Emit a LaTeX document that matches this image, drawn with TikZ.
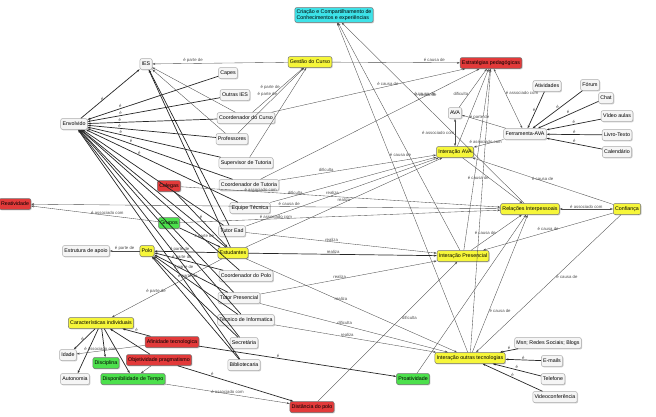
\documentclass[tikz,border=0pt]{standalone}
\usepackage{fontspec}
\setmainfont{Liberation Sans}
\usetikzlibrary{arrows.meta,shadows}

\definecolor{cmyellow}{HTML}{F6F63A}
\definecolor{cmred}{HTML}{E23A3A}
\definecolor{cmgreen}{HTML}{4CE04C}
\definecolor{cmcyan}{HTML}{3EE2E8}

\tikzset{
  concept/.style={draw=gray!65, line width=0.5pt, fill=gray!8, rounded corners=2pt, inner sep=1.8pt,
    minimum height=11pt, font=\fontsize{5.3}{6.3}\selectfont,
    drop shadow={shadow xshift=0.9pt, shadow yshift=-0.9pt, opacity=0.4}},
  yel/.style={concept, draw=black!55, fill=cmyellow},
  redc/.style={concept, draw=black!55, fill=cmred},
  grn/.style={concept, draw=black!55, fill=cmgreen},
  cyn/.style={concept, draw=black!55, fill=cmcyan},
  rel/.style={draw=black!70, line width=0.35pt, -{Stealth[length=3pt,width=2pt]}},
  both/.style={rel, {Stealth[length=3pt,width=2pt]}-{Stealth[length=3pt,width=2pt]}},
  strong/.style={rel, draw=black!85, line width=0.7pt},
  lbl/.style={font=\fontsize{4.3}{5}\selectfont, text=black!70, inner sep=0.5pt},
}

\begin{document}
\begin{tikzpicture}[x=1pt, y=-1pt]
    \useasboundingbox (0,0) rectangle (656,416);

    % conceitos
    \node[cyn, align=left] (criacao) at (334,15) {Criação e Compartilhamento de\\Conhecimentos e experiências};
    \node[concept] (ies) at (146,64) {IES};
    \node[yel] (gestao) at (310,62) {Gestão do Curso};
    \node[redc] (estrat) at (491,63) {Estratégias pedagógicas};
    \node[concept] (capes) at (228,73) {Capes};
    \node[concept] (outras) at (235,95) {Outras IES};
    \node[concept] (coordcurso) at (246,118) {Coordenador do Curso};
    \node[concept] (prof) at (232,139) {Professores};
    \node[concept] (superv) at (246,163) {Supervisor de Tutoria};
    \node[concept] (coordtut) at (249,185) {Coordenador de Tutoria};
    \node[concept] (envolv) at (74,124) {Envolvido};
    \node[concept] (ativ) at (547,86) {Atividades};
    \node[concept] (forum) at (590,85) {Fórum};
    \node[concept] (chat) at (606,98) {Chat};
    \node[concept] (video) at (617,116) {Vídeo aulas};
    \node[concept] (livro) at (617,135) {Livro-Texto};
    \node[concept] (calend) at (617,152) {Calendário};
    \node[concept] (ava) at (455,113) {AVA};
    \node[concept] (ferr) at (525,134) {Ferramenta-AVA};
    \node[yel] (intava) at (455,152) {Interação AVA};
    \node[redc] (colegas) at (169,186) {Colegas};
    \node[redc] (reat) at (15,204) {Reatividade};
    \node[concept] (equipe) at (250,208) {Equipe Técnica};
    \node[grn] (grupos) at (169,223) {Grupos};
    \node[concept] (tutoread) at (232,231) {Tutor Ead};
    \node[yel] (relac) at (530,209) {Relações Interpessoais};
    \node[yel] (confia) at (627,209) {Confiança};
    \node[concept] (estrut) at (86,251) {Estrutura de apoio};
    \node[yel] (polo) at (147,251) {Polo};
    \node[yel] (estud) at (233,253) {Estudantes};
    \node[concept] (coordpolo) at (246,276) {Coordenador do Polo};
    \node[yel] (intpres) at (463,256) {Interação Presencial};
    \node[concept] (tutorpres) at (239,298) {Tutor Presencial};
    \node[yel] (caract) at (101,323) {Características individuais};
    \node[concept] (tecnico) at (246,320) {Tecnico de Informatica};
    \node[redc] (afin) at (172,342) {Afinidade tecnologica};
    \node[concept] (secret) at (244,343) {Secretária};
    \node[redc] (objet) at (159,360) {Objetividade pragmatismo};
    \node[concept] (idade) at (68,355) {Idade};
    \node[grn] (discip) at (106,363) {Disciplina};
    \node[concept] (msn) at (548,343) {Msn; Redes Sociais; Blogs};
    \node[yel] (intout) at (470,358) {Interação outras tecnologias};
    \node[concept] (emails) at (552,361) {E-mails};
    \node[concept] (auton) at (75,379) {Autonomia};
    \node[grn] (dispon) at (133,379) {Disponibilidade de Tempo};
    \node[concept] (biblio) at (244,365) {Bibliotecaria};
    \node[grn] (proat) at (413,379) {Proatividade};
    \node[concept] (telef) at (553,379) {Telefone};
    \node[concept] (videoconf) at (555,397) {Videoconferência};
    \node[redc] (dist) at (312,407) {Distância do polo};

    % envolvidos
    \draw[strong] (envolv) -- node[lbl, pos=.4, left] {é} (ies);
    \draw[strong] (capes) -- node[lbl, pos=.75, above] {é} (envolv);
    \draw[strong] (outras) -- node[lbl, pos=.75, above] {é} (envolv);
    \draw[strong] (coordcurso) -- node[lbl, pos=.75, above] {é} (envolv);
    \draw[strong] (prof) -- node[lbl, pos=.75, above] {é} (envolv);
    \draw[strong] (superv) -- node[lbl, pos=.75, above] {é} (envolv);
    \draw[strong] (coordtut) -- node[lbl, pos=.7, above] {é} (envolv);
    \draw[strong] (equipe) -- node[lbl, pos=.65, above] {é} (envolv);
    \draw[strong] (tutoread) -- (envolv);
    \draw[strong] (estud) -- (envolv);
    \draw[strong] (coordpolo) -- (envolv);
    \draw[strong] (tutorpres) -- (envolv);
    \draw[strong] (tecnico) -- (envolv);
    \draw[strong] (secret) -- (envolv);
    \draw[strong] (biblio) -- (envolv);
    \draw[rel] (coordcurso) -- (ies);
    \draw[rel] (prof) -- (ies);
    \draw[strong] (tutoread) -- (ies);
    \draw[strong] (estud) -- (ies);

    % gestao
    \draw[rel] (gestao) -- node[lbl, pos=.7, above] {é parte de} (ies);
    \draw[rel] (gestao) -- node[lbl, pos=.8, above] {é causa de} (estrat);
    \draw[rel] (coordcurso) -- node[lbl, pos=.55, left] {é parte de} (gestao);
    \draw[rel] (prof) -- node[lbl, pos=.6, left] {é parte de} (gestao);
    \draw[rel] (superv) -- (gestao);
    \draw[rel] (coordcurso) -- node[lbl, pos=.6, above] {é causa de} (estrat);
    \draw[rel] (coordtut) -- node[lbl, pos=.75, above] {é causa de} (estrat);

    % criacao
    \draw[rel] (relac) -- node[lbl, pos=.6, right] {é causa de} (criacao);
    \draw[rel] (intpres) -- (criacao);
    \draw[rel] (intout) -- node[lbl, pos=.6, right] {é causa de} (criacao);

    % ferramenta AVA
    \draw[strong] (ativ) -- node[lbl, pos=.5, left] {é} (ferr);
    \draw[strong] (forum) -- node[lbl, pos=.5, above] {é} (ferr);
    \draw[strong] (chat) -- node[lbl, pos=.5, above] {é} (ferr);
    \draw[strong] (video) -- node[lbl, pos=.5, above] {é} (ferr);
    \draw[strong] (livro) -- node[lbl, pos=.5, above] {é} (ferr);
    \draw[strong] (calend) -- node[lbl, pos=.5, above] {é} (ferr);
    \draw[both] (ferr) -- node[lbl, pos=.6, right] {é associado com} (estrat);
    \draw[rel] (ferr) -- node[lbl, pos=.6, above] {é parte de} (ava);
    \draw[both] (ava) -- node[lbl, pos=.5, left] {é associado com} (intava);
    \draw[rel] (ferr) -- node[lbl, pos=.6, above] {é associado com} (intava);
    \draw[rel] (ava) -- node[lbl, pos=.35, left] {dificulta} (estrat);

    % interacoes
    \draw[rel] (intava) -- node[lbl, pos=.45, left] {é causa de} (relac);
    \draw[rel] (confia) -- node[lbl, pos=.5, above] {é causa de} (intava);
    \draw[both] (relac) -- node[lbl, pos=.5, above] {é associado com} (confia);
    \draw[rel] (confia) -- node[lbl, pos=.5, above] {é causa de} (intpres);
    \draw[rel] (intpres) -- node[lbl, pos=.5, left] {é causa de} (relac);
    \draw[rel] (intout) -- node[lbl, pos=.3, right] {é causa de} (relac);
    \draw[rel] (confia) -- node[lbl, pos=.45, right] {é causa de} (intout);
    \draw[rel] (intava) -- (estrat);
    \draw[rel] (intpres) -- (estrat);
    \draw[rel] (intout) -- (estrat);
    \draw[strong] (msn) -- node[lbl, pos=.5, above] {é} (intout);
    \draw[strong] (emails) -- node[lbl, pos=.5, above] {é} (intout);
    \draw[strong] (telef) -- node[lbl, pos=.5, above] {é} (intout);
    \draw[strong] (videoconf) -- node[lbl, pos=.5, above] {é} (intout);

    % polo
    \draw[rel] (polo) -- node[lbl, pos=.5, above] {é parte de} (estrut);
    \draw[strong] (estud) -- node[lbl, pos=.6, above] {é parte de} (polo);
    \draw[strong] (coordpolo) -- node[lbl, pos=.6, above] {é parte de} (polo);
    \draw[strong] (tutorpres) -- node[lbl, pos=.6, above] {é parte de} (polo);
    \draw[strong] (tecnico) -- node[lbl, pos=.6, above] {é parte de} (polo);
    \draw[strong] (secret) -- (polo);
    \draw[strong] (biblio) -- (polo);

    % caracteristicas individuais
    \draw[rel] (estud) -- node[lbl, pos=.6, above] {é parte de} (caract);
    \draw[strong] (caract) -- node[lbl, pos=.5, left] {é} (idade);
    \draw[strong] (caract) -- (auton);
    \draw[strong] (caract) -- (discip);
    \draw[strong] (caract) -- (dispon);
    \draw[strong] (afin) -- node[lbl, pos=.5, above] {é} (caract);
    \draw[strong] (objet) -- (caract);
    \draw[rel] (afin) -- node[lbl, pos=.65, above] {é associado com} (idade);
    \draw[rel] (objet) -- (dispon);
    \draw[rel] (dispon) -- node[lbl, pos=.5, above] {é associado com} (dist);
    \draw[strong] (objet) -- node[lbl, pos=.3, above] {é} (dist);
    \draw[strong] (afin) -- node[lbl, pos=.4, above] {é} (proat);
    \draw[rel] (dist) -- node[lbl, pos=.6, right] {dificulta} (intpres);

    % estudantes e equipe
    \draw[rel] (estud) -- node[lbl, pos=.5, above] {realiza} (intava);
    \draw[strong] (estud) -- node[lbl, pos=.45, above] {realiza} (intpres);
    \draw[rel] (estud) -- node[lbl, pos=.45, above] {realiza} (intout);
    \draw[rel] (tutoread) -- node[lbl, pos=.45, above] {realiza} (intava);
    \draw[rel] (tutoread) -- node[lbl, pos=.45, above] {realiza} (intpres);
    \draw[rel] (tutorpres) -- node[lbl, pos=.45, above] {realiza} (intpres);
    \draw[rel] (tutorpres) -- node[lbl, pos=.45, above] {dificulta} (intout);
    \draw[rel] (coordtut) -- node[lbl, pos=.3, above] {dificulta} (intava);
    \draw[rel] (equipe) -- node[lbl, pos=.15, above] {dificulta} (intava);
    \draw[rel] (tecnico) -- node[lbl, pos=.45, above] {realiza} (intout);
    \draw[rel] (colegas) -- node[lbl, pos=.25, above] {é associado com} (relac);
    \draw[rel] (grupos) -- node[lbl, pos=.3, above] {é associado com} (relac);
    \draw[rel] (grupos) -- node[lbl, pos=.4, above] {é associado com} (reat);
    \draw[rel] (relac) -- node[lbl, pos=.45, above] {é causa de} (reat);
    \draw[strong] (colegas) -- node[lbl, pos=.5, above] {é} (estud);
    \draw[strong] (grupos) -- node[lbl, pos=.6, above] {é parte de} (estud);
    \draw[rel] (proat) -- (relac);
\end{tikzpicture}
\end{document}
